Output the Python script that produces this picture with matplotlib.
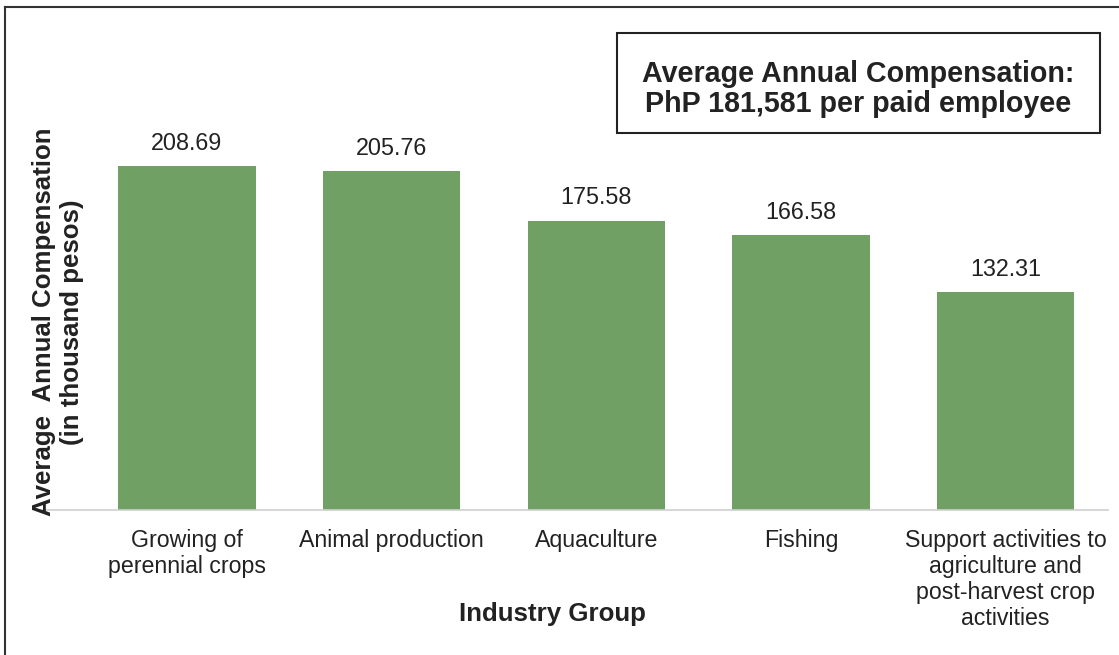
import matplotlib
matplotlib.use("Agg")
import matplotlib.pyplot as plt
from matplotlib.patches import Rectangle

plt.rcParams['font.family'] = ['Liberation Sans', 'DejaVu Sans']

categories = [
    "Growing of\nperennial crops",
    "Animal production",
    "Aquaculture",
    "Fishing",
    "Support activities to\nagriculture and\npost-harvest crop\nactivities",
]
values = [208.69, 205.76, 175.58, 166.58, 132.31]
value_labels = ["208.69", "205.76", "175.58", "166.58", "132.31"]

W, H = 1119, 655
fig = plt.figure(figsize=(W / 100, H / 100), dpi=100)
fig.patch.set_facecolor("white")

# axes placement in pixels (left, top, right, bottom)
ax_l, ax_t, ax_r, ax_b = 40, 60, 1108, 510
ax = fig.add_axes([ax_l / W, 1 - ax_b / H, (ax_r - ax_l) / W, (ax_b - ax_t) / H])

x = list(range(len(categories)))
ax.bar(x, values, width=0.67, color="#70a063", zorder=2)
for xi, v, lab in zip(x, values, value_labels):
    ax.annotate(lab, (xi, v), xytext=(0, 8), textcoords="offset points",
                ha="center", va="bottom", fontsize=16.8, color="#222222")

ax.set_xlim(-0.718, 4.5)
px_per_unit = (510 - 166) / 208.69
ax.set_ylim(0, (ax_b - ax_t) / px_per_unit)
for s in ["top", "right", "left"]:
    ax.spines[s].set_visible(False)
ax.spines["bottom"].set_color("#d0d0d0")
ax.spines["bottom"].set_linewidth(1.2)
ax.set_yticks([])
ax.set_xticks(x)
ax.set_xticklabels(categories, fontsize=16.7, color="#222222", linespacing=1.16)
ax.tick_params(axis="x", length=0, pad=14)

fig.text(552 / W, 1 - 614 / H, "Industry Group", ha="center", va="center",
         fontsize=18.6, fontweight="bold", color="#222222")
fig.text(58 / W, 1 - 322 / H, "Average  Annual Compensation\n(in thousand pesos)",
         ha="center", va="center", rotation=90, fontsize=18.6,
         fontweight="bold", color="#222222", linespacing=1.25)

# summary box
fig.patches.append(Rectangle((617 / W, 1 - 133 / H), (1100 - 617) / W, (133 - 33) / H,
                             transform=fig.transFigure, fill=False,
                             edgecolor="#222222", linewidth=1.5))
fig.text(858 / W, 1 - 89 / H, "Average Annual Compensation:\nPhP 181,581 per paid employee",
         ha="center", va="center", fontsize=20.6, fontweight="bold",
         color="#222222", linespacing=1.06)

# outer frame (left and top edges)
fig.add_artist(plt.Line2D([5 / W, 5 / W], [0, 1 - 7 / H], transform=fig.transFigure,
                          color="#333333", linewidth=1.5))
fig.add_artist(plt.Line2D([5 / W, 1], [1 - 7 / H, 1 - 7 / H], transform=fig.transFigure,
                          color="#333333", linewidth=1.5))

fig.savefig("out.png", dpi=100, facecolor="white")
